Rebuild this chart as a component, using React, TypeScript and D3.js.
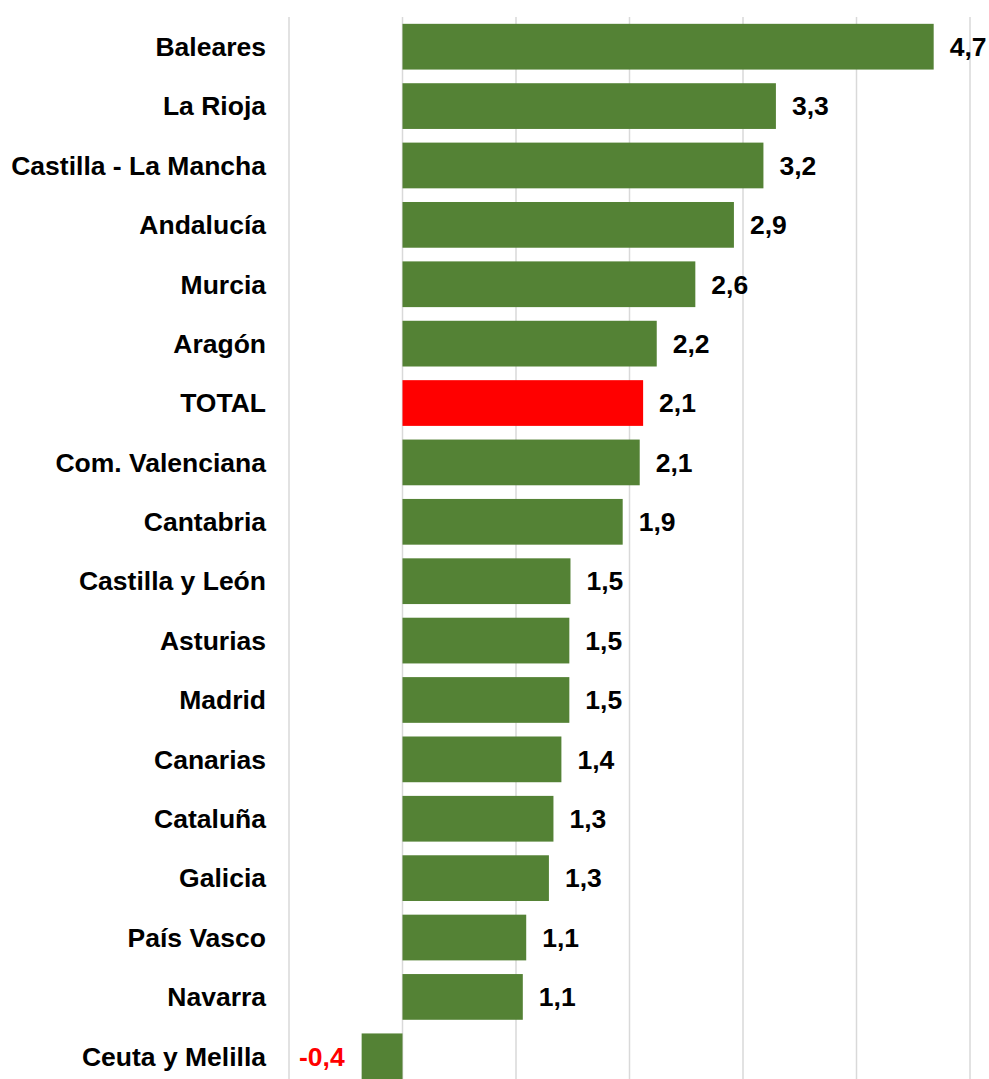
import React from "react";
import * as d3 from "d3";

const WIDTH = 989;
const HEIGHT = 1079;

const regions = [
  "Baleares",
  "La Rioja",
  "Castilla - La Mancha",
  "Andalucía",
  "Murcia",
  "Aragón",
  "TOTAL",
  "Com. Valenciana",
  "Cantabria",
  "Castilla y León",
  "Asturias",
  "Madrid",
  "Canarias",
  "Cataluña",
  "Galicia",
  "País Vasco",
  "Navarra",
  "Ceuta y Melilla",
];

const values = [
  4.68, 3.29, 3.18, 2.92, 2.58, 2.24, 2.12, 2.09, 1.94, 1.48, 1.47, 1.47, 1.4,
  1.33, 1.29, 1.09, 1.06, -0.36,
];

const gridTicks = [-1, 0, 1, 2, 3, 4, 5];

const GREEN = "#548235";
const RED = "#ff0000";
const FONT = "Liberation Sans, Arial, sans-serif";

const fmt = (v: number) => v.toFixed(1).replace(".", ",");

export default function App() {
  const xScale = d3.scaleLinear().domain([-1, 5]).range([289, 970]);
  const yScale = d3
    .scaleBand()
    .domain(regions)
    .range([17, 1086])
    .paddingInner(0.23)
    .paddingOuter(0.115);

  const data = regions.map((name, i) => ({ name, value: values[i] }));

  return (
    <div style={{ position: "absolute", left: 0, top: 0 }}>
      <svg width={WIDTH} height={HEIGHT} style={{ display: "block" }}>
        <rect width={WIDTH} height={HEIGHT} fill="#ffffff" />
        {gridTicks.map((t) => (
          <line
            key={t}
            x1={xScale(t)}
            x2={xScale(t)}
            y1={17}
            y2={HEIGHT}
            stroke="#d9d9d9"
            strokeWidth={1.5}
          />
        ))}
        {data.map((d) => {
          const y = yScale(d.name) ?? 0;
          const bw = yScale.bandwidth();
          const x0 = xScale(Math.min(0, d.value));
          const x1 = xScale(Math.max(0, d.value));
          const isTotal = d.name === "TOTAL";
          const neg = d.value < 0;
          return (
            <g key={d.name}>
              <rect
                x={x0}
                y={y}
                width={x1 - x0}
                height={bw}
                fill={isTotal ? RED : GREEN}
              />
              <text
                x={266}
                y={y + bw / 2}
                dy="0.35em"
                textAnchor="end"
                fontFamily={FONT}
                fontWeight="bold"
                fontSize={26.5}
                fill="#000"
              >
                {d.name}
              </text>
              <text
                x={neg ? x0 - 17 : x1 + 16}
                y={y + bw / 2}
                dy="0.35em"
                textAnchor={neg ? "end" : "start"}
                fontFamily={FONT}
                fontWeight="bold"
                fontSize={26.5}
                fill={neg ? RED : "#000"}
              >
                {fmt(d.value)}
              </text>
            </g>
          );
        })}
      </svg>
    </div>
  );
}
